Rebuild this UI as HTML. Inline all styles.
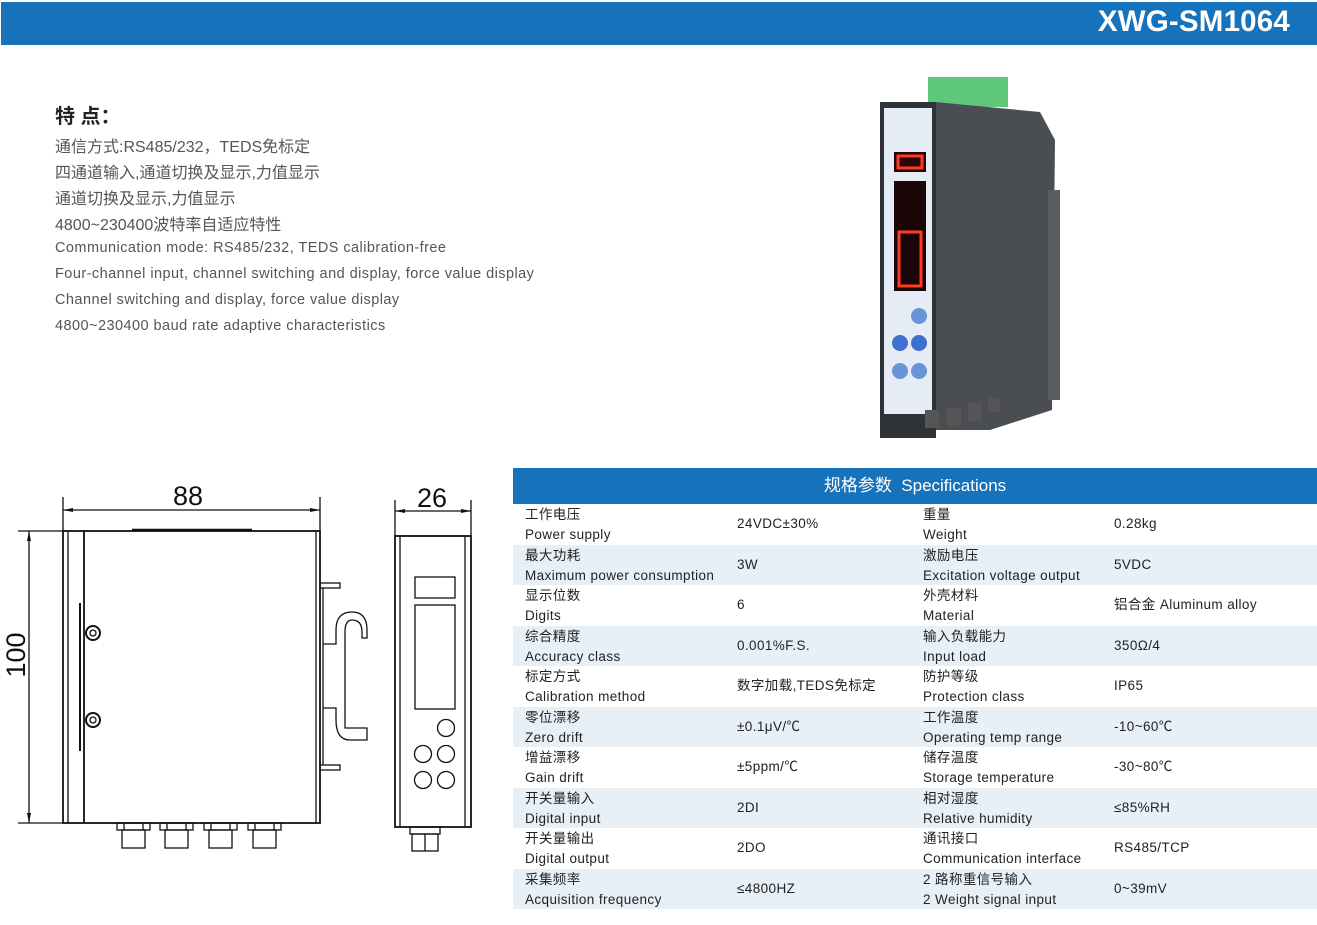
<!DOCTYPE html>
<html><head><meta charset="utf-8"><style>
*{margin:0;padding:0;box-sizing:border-box}
body{width:1317px;height:925px;background:#fff;position:relative;overflow:hidden;font-family:"Liberation Sans","Noto Sans CJK SC",sans-serif;color:#333}
.bar{position:absolute;left:1px;top:2px;width:1316px;height:43px;background:#1672bb}
.title{position:absolute;right:27px;top:5px;color:#fff;font-size:29.5px;font-weight:bold;letter-spacing:0.2px}
.t{position:absolute;left:55px;white-space:nowrap}
.cn{font-size:16px;color:#555}
.en{font-size:14.5px;color:#555;letter-spacing:0.45px}
.th{position:absolute;left:513px;top:468px;width:804px;height:36px;background:#1672bb;color:#fff;font-size:17px;text-align:center;line-height:36px}
.row{position:absolute;left:513px;width:804px;height:40.5px;font-size:13.5px;color:#222;letter-spacing:0.4px}
.row.b{background:#e7eff7}
.row div{position:absolute;white-space:nowrap;line-height:20px}
</style></head><body>
<div class="bar"></div><div class="title">XWG-SM1064</div>
<div class="t" style="top:100px;font-size:20px;font-weight:bold;color:#222">特 点：</div>
<div class="t cn" style="top:133px">通信方式:RS485/232，TEDS免标定</div>
<div class="t cn" style="top:159px">四通道输入,通道切换及显示,力值显示</div>
<div class="t cn" style="top:185px">通道切换及显示,力值显示</div>
<div class="t cn" style="top:211px">4800~230400波特率自适应特性</div>
<div class="t en" style="top:240px">Communication mode: RS485/232, TEDS calibration-free</div>
<div class="t en" style="top:266px">Four-channel input, channel switching and display, force value display</div>
<div class="t en" style="top:292px">Channel switching and display, force value display</div>
<div class="t en" style="top:318px">4800~230400 baud rate adaptive characteristics</div>

<svg style="position:absolute;left:0;top:0" width="1317" height="925">
<rect x="928" y="77" width="80" height="30" fill="#5fc77a"/>
<polygon points="935,102 1040,112 1055,140 1052,410 990,430 935,430" fill="#4a4d52"/>
<rect x="1048" y="190" width="12" height="210" fill="#5a5d62"/>
<rect x="880" y="102" width="56" height="336" fill="#2f3236"/>
<rect x="884" y="108" width="48" height="306" fill="#e6ecf5"/>
<rect x="894" y="152" width="32" height="20" fill="#2a0505"/>
<rect x="898" y="156" width="24" height="12" fill="none" stroke="#ff3b22" stroke-width="3"/>
<rect x="894" y="181" width="32" height="110" fill="#1a0606"/>
<rect x="899" y="232" width="22" height="54" fill="none" stroke="#ff3b22" stroke-width="3"/>
<circle cx="919" cy="316" r="8" fill="#6b93d8"/>
<circle cx="900" cy="343" r="8" fill="#3f6fcf"/><circle cx="919" cy="343" r="8" fill="#3f6fcf"/>
<circle cx="900" cy="371" r="8" fill="#6b93d8"/><circle cx="919" cy="371" r="8" fill="#6b93d8"/>
<rect x="925" y="410" width="14" height="18" fill="#555"/><rect x="947" y="408" width="14" height="18" fill="#555"/><rect x="968" y="403" width="14" height="18" fill="#555"/><rect x="988" y="398" width="12" height="14" fill="#555"/>
<g stroke="#111" fill="none" stroke-width="1.3">
<line x1="63" y1="497" x2="63" y2="531"/><line x1="320" y1="497" x2="320" y2="531"/>
<line x1="63" y1="510" x2="320" y2="510"/>
<line x1="18" y1="531" x2="63" y2="531"/><line x1="18" y1="823" x2="63" y2="823"/>
<line x1="29" y1="531" x2="29" y2="823"/>
<rect x="63" y="531" width="257" height="292" stroke-width="1.8"/>
<line x1="68" y1="531" x2="68" y2="823"/><line x1="84" y1="531" x2="84" y2="823" stroke-width="1.8"/>
<line x1="132" y1="530" x2="252" y2="530" stroke-width="2.5"/>
<line x1="80" y1="603" x2="80" y2="751" stroke-width="2"/>
<circle cx="93" cy="633" r="7" stroke-width="2"/><circle cx="93" cy="633" r="3"/>
<circle cx="93" cy="720" r="7" stroke-width="2"/><circle cx="93" cy="720" r="3"/>
<line x1="316" y1="531" x2="316" y2="823"/>
<rect x="320" y="583" width="20" height="5"/><rect x="320" y="765" width="20" height="5"/>
<line x1="323" y1="588" x2="323" y2="765"/>
<path d="M323 644 H336 V630 Q336 612 352 612 Q367 612 367 630 V638 H362 V632 Q362 620 352 620 Q345 620 345 632 V728 H367 V740 H350 Q336 740 336 720 V708 H323"/>
<g id="c"><rect x="117" y="823" width="33" height="7"/><line x1="124" y1="823" x2="124" y2="830"/><line x1="143" y1="823" x2="143" y2="830"/><rect x="122" y="830" width="23" height="18"/></g>
<use href="#c" x="43"/><use href="#c" x="87"/><use href="#c" x="131"/>
<line x1="395" y1="500" x2="395" y2="536"/><line x1="471" y1="500" x2="471" y2="536"/>
<line x1="395" y1="511" x2="471" y2="511"/>
<rect x="395" y="536" width="76" height="291" stroke-width="1.8"/>
<line x1="400" y1="536" x2="400" y2="827"/><line x1="465" y1="536" x2="465" y2="827"/>
<rect x="415" y="577" width="40" height="21"/><rect x="415" y="605" width="40" height="104"/>
<circle cx="446" cy="728" r="8.5"/><circle cx="423" cy="754" r="8.5"/><circle cx="446" cy="754" r="8.5"/><circle cx="423" cy="780" r="8.5"/><circle cx="446" cy="780" r="8.5"/>
<rect x="410" y="827" width="30" height="7"/><rect x="412" y="834" width="26" height="17"/><line x1="425" y1="834" x2="425" y2="851"/>
</g>
<g fill="#111"><polygon points="63,510 73,508 73,512"/><polygon points="320,510 310,508 310,512"/>
<polygon points="29,531 27,541 31,541"/><polygon points="29,823 27,813 31,813"/>
<polygon points="395,511 405,509 405,513"/><polygon points="471,511 461,509 461,513"/></g>
<text x="188" y="505" font-size="27" text-anchor="middle" font-family="Liberation Sans" fill="#111">88</text>
<text x="432" y="507" font-size="27" text-anchor="middle" font-family="Liberation Sans" fill="#111">26</text>
<text transform="translate(25,655) rotate(-90)" font-size="27" text-anchor="middle" font-family="Liberation Sans" fill="#111">100</text>
</svg>

<div class="th">规格参数&nbsp; Specifications</div>
<div class="row" style="top:504px"><div style="left:12px;top:1px">工作电压<br>Power supply</div><div style="left:224px;top:10px">24VDC±30%</div><div style="left:410px;top:1px">重量<br>Weight</div><div style="left:601px;top:10px">0.28kg</div></div>
<div class="row b" style="top:544.5px"><div style="left:12px;top:1px">最大功耗<br>Maximum power consumption</div><div style="left:224px;top:10px">3W</div><div style="left:410px;top:1px">激励电压<br>Excitation voltage output</div><div style="left:601px;top:10px">5VDC</div></div>
<div class="row" style="top:585px"><div style="left:12px;top:1px">显示位数<br>Digits</div><div style="left:224px;top:10px">6</div><div style="left:410px;top:1px">外壳材料<br>Material</div><div style="left:601px;top:10px">铝合金 Aluminum alloy</div></div>
<div class="row b" style="top:625.5px"><div style="left:12px;top:1px">综合精度<br>Accuracy class</div><div style="left:224px;top:10px">0.001%F.S.</div><div style="left:410px;top:1px">输入负载能力<br>Input load</div><div style="left:601px;top:10px">350Ω/4</div></div>
<div class="row" style="top:666px"><div style="left:12px;top:1px">标定方式<br>Calibration method</div><div style="left:224px;top:10px">数字加载,TEDS免标定</div><div style="left:410px;top:1px">防护等级<br>Protection class</div><div style="left:601px;top:10px">IP65</div></div>
<div class="row b" style="top:706.5px"><div style="left:12px;top:1px">零位漂移<br>Zero drift</div><div style="left:224px;top:10px">±0.1μV/℃</div><div style="left:410px;top:1px">工作温度<br>Operating temp range</div><div style="left:601px;top:10px">-10~60℃</div></div>
<div class="row" style="top:747px"><div style="left:12px;top:1px">增益漂移<br>Gain drift</div><div style="left:224px;top:10px">±5ppm/℃</div><div style="left:410px;top:1px">储存温度<br>Storage temperature</div><div style="left:601px;top:10px">-30~80℃</div></div>
<div class="row b" style="top:787.5px"><div style="left:12px;top:1px">开关量输入<br>Digital input</div><div style="left:224px;top:10px">2DI</div><div style="left:410px;top:1px">相对湿度<br>Relative humidity</div><div style="left:601px;top:10px">≤85%RH</div></div>
<div class="row" style="top:828px"><div style="left:12px;top:1px">开关量输出<br>Digital output</div><div style="left:224px;top:10px">2DO</div><div style="left:410px;top:1px">通讯接口<br>Communication interface</div><div style="left:601px;top:10px">RS485/TCP</div></div>
<div class="row b" style="top:868.5px"><div style="left:12px;top:1px">采集频率<br>Acquisition frequency</div><div style="left:224px;top:10px">≤4800HZ</div><div style="left:410px;top:1px">2 路称重信号输入<br>2 Weight signal input</div><div style="left:601px;top:10px">0~39mV</div></div>
</body></html>
